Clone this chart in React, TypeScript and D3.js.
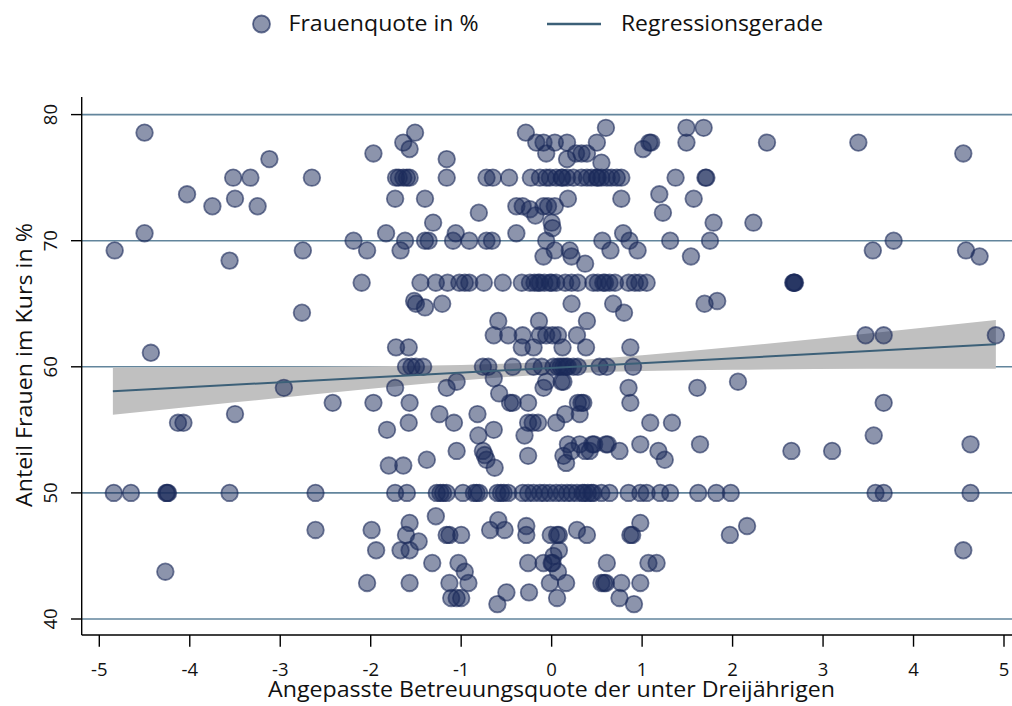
import React from "react";
import * as d3 from "d3";

// ---- Data ----
const xTicks = [-5, -4, -3, -2, -1, 0, 1, 2, 3, 4, 5];
const yTicks = [40, 50, 60, 70, 80];

// Scatter points: x = Angepasste Betreuungsquote, y = Frauenquote in %
const pointX = [
  -4.5, -4.03, -3.75, -3.52, -3.33, -3.5, -3.25, -3.12, -2.65, -4.5, -4.83, -3.56, -2.75, -2.76, -4.43,
  -2.96, -4.13, -4.07, -3.5, -4.84, -4.65, -4.26, -4.24, -4.25, -3.56, -2.61, -2.61, -4.27,
  -1.51, -1.64, -1.57, -1.97, -1.16,
  -1.72, -1.69, -1.64, -1.6, -1.57, -1.16, -0.72, -0.65, -0.47, -0.23, -0.06,
  -0.285, -0.17, -0.09, -0.06,
  -1.73, -1.4, -0.805,
  -0.39, -0.32, -0.24, -0.18, -0.09,
  -1.31, -1.83, -2.19, -2.04, -1.62, -1.67, -1.4, -1.36, -1.09, -1.06, -0.91, -0.72, -0.66, -0.39, -0.09, -0.06,
  -2.1, -1.45, -1.28, -1.15, -1.02, -0.96, -0.91, -0.75, -0.54, -0.33, -0.24, -0.19, -0.15, -0.13, -0.08, -0.02, 0.0,
  -1.52, -1.5, -1.4, -1.21,
  -0.59, -0.64, -0.48, -0.32, -0.14, -0.13, -0.06,
  -0.33, -0.2, -1.72, -1.58,
  -1.61, -1.55, -1.5, -1.42, -0.76, -0.7, -0.43, -0.2,
  -1.73, -1.16, -1.05, -0.64, -0.58, -0.46, -0.43, -0.26, -0.09, -0.06,
  -2.42, -1.97, -1.57, -1.24, -1.08, -0.82, -1.58, -1.82, -0.81, -0.64, -0.76, -0.74, -0.72, -0.63, -1.05, -1.38, -1.8, -1.64, -0.26, -0.21, -0.15, -0.3, -0.26,
  -1.73, -1.6, -1.27, -1.23, -1.2, -1.16, -0.98, -0.86, -0.83, -0.8, -0.6, -0.56, -0.53, -0.48, -0.32, -0.26, -0.2, -0.13, -0.08,
  -1.28, -1.57, -1.61, -1.47, -1.16, -1.13, -1.0, -1.99, -1.94, -1.67, -1.57, -0.68, -0.59, -0.52, -0.28, -0.28,
  -1.32, -1.03, -0.96, -0.26, -0.09, -2.04, -1.57, -1.13, -0.92, -1.11, -1.05, -1.0, -0.6, -0.5, -0.25,
  0.6, 1.49, 1.68, 0.035, 0.17, 0.5,
  0.17, 0.27, 0.33, 0.39, 0.55, 1.01, 1.08, 1.1, 1.49, 2.38,
  -0.13, -0.02, 0.05, 0.11, 0.12, 0.17, 0.24, 0.33, 0.39, 0.44, 0.5, 0.51, 0.55, 0.61, 0.66, 0.72, 0.77,
  1.37, 1.7, 1.71,
  0.18, -0.04, 0.035, 0.77, 1.19, 1.57, 1.23,
  0.0, 0.01, 1.79, 2.23, 0.79, 0.86, 0.95, 0.56, 0.65, 1.31, 1.75, 1.54, 0.035, 0.2, 0.22, 0.37,
  0.05, 0.15, 0.22, 0.29, 0.46, 0.51, 0.57, 0.59, 0.64, 0.7, 0.85, 0.92, 0.97, 1.05,
  0.22, 0.68, 0.8, 1.69, 1.83, 0.39,
  0.01, 0.07, 0.28,
  0.12, 0.38, 0.87,
  -0.11, 0.02, 0.07, 0.1, 0.13, 0.16, 0.18, 0.24, 0.29, 0.53, 0.61, 0.9,
  0.11, 0.13, 0.85, 0.87, 1.61, 2.06,
  0.29, 0.33, 0.35, 0.31, 0.15, 0.05,
  1.09, 1.33,
  0.18, 0.31, 0.45, 0.47, 0.6, 0.62, 0.13, 0.16, 0.22, 0.37, 0.42, 0.75, 0.98, 1.18, 1.25, 1.64,
  -0.02, 0.05, 0.11, 0.17, 0.22, 0.28, 0.34, 0.36, 0.4, 0.44, 0.46, 0.55, 0.64, 0.85, 0.98, 1.05, 1.2, 1.31, 1.62, 1.82, 1.98,
  -0.01, 0.06, 0.08, 0.28, 0.39, 0.87, 0.89, 0.98, 1.97, 2.16,
  0.02, 0.0, 0.01, 0.08, 0.07, 0.61, 1.07, 1.16,
  -0.02, 0.16, 0.55, 0.58, 0.6, 0.77, 0.98, 0.06, 0.75, 0.91,
  3.39, 4.55, 2.68, 2.68, 2.69, 2.67, 3.55, 3.78, 4.58, 4.73, 3.47, 3.67, 4.91,
  3.67, 3.56, 2.65, 3.1, 4.63, 3.58, 3.67, 4.63, 4.55,
];

const pointY = [
  78.57, 73.68, 72.73, 75, 75, 73.33, 72.73, 76.47, 75, 70.59, 69.23, 68.42, 69.23, 64.29, 61.11,
  58.33, 55.56, 55.56, 56.25, 50, 50, 50, 50, 50, 50, 50, 47.06, 43.75,
  78.57, 77.78, 77.27, 76.92, 76.47,
  75, 75, 75, 75, 75, 75, 75, 75, 75, 75, 75,
  78.57, 77.78, 77.78, 76.92,
  73.33, 73.33, 72.22,
  72.73, 72.73, 72.5, 72.0, 72.73,
  71.43, 70.59, 70, 69.23, 70, 69.23, 70, 70, 70, 70.59, 70, 70, 70, 70.59, 68.75, 70,
  66.67, 66.67, 66.67, 66.67, 66.67, 66.67, 66.67, 66.67, 66.67, 66.67, 66.67, 66.67, 66.67, 66.67, 66.67, 66.67, 66.67,
  65.22, 65.0, 64.71, 65,
  63.64, 62.5, 62.5, 62.5, 63.64, 62.5, 62.5,
  61.54, 61.54, 61.54, 61.54,
  60, 60, 60, 60, 60, 60, 60, 60,
  58.33, 58.33, 58.82, 59.09, 57.89, 57.14, 57.14, 57.14, 58.33, 58.82,
  57.14, 57.14, 57.14, 56.25, 55.56, 56.25, 55.56, 55, 54.55, 55, 53.33, 53.0, 52.63, 52, 53.33, 52.63, 52.17, 52.17, 55.56, 55.56, 55.56, 54.55, 52.94,
  50, 50, 50, 50, 50, 50, 50, 50, 50, 50, 50, 50, 50, 50, 50, 50, 50, 50, 50,
  48.15, 47.62, 46.67, 46.15, 46.67, 46.67, 46.67, 47.06, 45.45, 45.45, 45.45, 47.06, 47.83, 47.06, 47.37, 46.67,
  44.44, 44.44, 43.75, 44.44, 44.44, 42.86, 42.86, 42.86, 42.86, 41.67, 41.67, 41.67, 41.18, 42.11, 42.11,
  78.95, 78.95, 78.95, 77.78, 77.78, 77.78,
  76.47, 76.92, 76.92, 76.92, 76.19, 77.27, 77.78, 77.78, 77.78, 77.78,
  75, 75, 75, 75, 75, 75, 75, 75, 75, 75, 75, 75, 75, 75, 75, 75, 75,
  75, 75, 75,
  73.33, 72.73, 72.73, 73.33, 73.68, 73.33, 72.22,
  71.43, 71.0, 71.43, 71.43, 70.59, 70, 69.23, 70, 69.23, 70, 70, 68.75, 69.23, 69.23, 68.75, 68.18,
  66.67, 66.67, 66.67, 66.67, 66.67, 66.67, 66.67, 66.67, 66.67, 66.67, 66.67, 66.67, 66.67, 66.67,
  65, 65, 64.29, 65, 65.22, 63.64,
  62.5, 62.5, 62.5,
  61.54, 61.54, 61.54,
  60, 60, 60, 60, 60, 60, 60, 60, 60, 60, 60, 60,
  58.82, 58.82, 58.33, 57.14, 58.33, 58.82,
  57.14, 57.14, 57.14, 56.25, 56.25, 55.56,
  55.56, 55.56,
  53.85, 53.85, 53.85, 53.85, 53.85, 53.85, 52.94, 52.38, 53.33, 53.33, 53.33, 53.33, 53.85, 53.33, 52.63, 53.85,
  50, 50, 50, 50, 50, 50, 50, 50, 50, 50, 50, 50, 50, 50, 50, 50, 50, 50, 50, 50, 50,
  46.67, 46.67, 46.67, 47.06, 46.67, 46.67, 46.67, 47.62, 46.67, 47.37,
  45.0, 44.44, 44.44, 45.45, 43.75, 44.44, 44.44, 44.44,
  42.86, 42.86, 42.86, 42.86, 42.86, 42.86, 42.86, 41.67, 41.67, 41.18,
  77.78, 76.92, 66.67, 66.67, 66.67, 66.67, 69.23, 70, 69.23, 68.75, 62.5, 62.5, 62.5,
  57.14, 54.55, 53.33, 53.33, 53.85, 50, 50, 50, 45.45,
];

// Regression line (fitted) and its 95% confidence band
const fitX = [-4.85, 4.91];
const fitY = [58.07, 61.78];
const bandX = [-4.85, -3.5, -2, -1, 0, 1, 2, 3.5, 4.91];
const bandLow = [56.19, 57.18, 58.25, 58.91, 59.41, 59.67, 59.77, 59.84, 59.85];
const bandHigh = [59.95, 59.98, 60.05, 60.15, 60.41, 60.91, 61.57, 62.64, 63.71];

const legendLabels = ["Frauenquote in %", "Regressionsgerade"];
const xTitle = "Angepasste Betreuungsquote der unter Dreijährigen";
const yTitle = "Anteil Frauen im Kurs in %";

// ---- Layout ----
const W = 1012;
const H = 706;
const axisX = 81.7;
const axisY = 635;
const plotTop = 97;
const FONT = "'Open Sans', 'Noto Sans', sans-serif";
const NAVY = "#1a2a5a";
const GRID = "#62859c";
const FIT = "#3c6078";

export default function App() {
  const x = d3.scaleLinear().domain([-5, 5]).range([99.3, 1004]);
  const y = d3.scaleLinear().domain([40, 80]).range([619, 114.6]);

  const band = d3
    .area<number>()
    .x((_, i) => x(bandX[i]))
    .y0((_, i) => y(bandLow[i]))
    .y1((_, i) => y(bandHigh[i]))
    .curve(d3.curveMonotoneX)(bandX);

  const fitLine = d3
    .line<number>()
    .x((_, i) => x(fitX[i]))
    .y((_, i) => y(fitY[i]))(fitX);

  return (
    <svg
      width={W}
      height={H}
      style={{ position: "absolute", left: 0, top: 0, display: "block" }}
      fontFamily={FONT}
    >
      <rect x={0} y={0} width={W} height={H} fill="#ffffff" />

      {/* Legend */}
      <g>
        <circle cx={261.5} cy={24} r={8.5} fill={NAVY} fillOpacity={0.5} stroke={NAVY} strokeOpacity={0.65} strokeWidth={1.8} />
        <text x={288.5} y={31} fontSize={21.5} fill="#111" textLength={190} lengthAdjust="spacingAndGlyphs">
          {legendLabels[0]}
        </text>
        <line x1={547} x2={601} y1={24} y2={24} stroke={FIT} strokeWidth={2.5} />
        <text x={621} y={31} fontSize={21.5} fill="#111" textLength={202} lengthAdjust="spacingAndGlyphs">
          {legendLabels[1]}
        </text>
      </g>

      {/* Gridlines */}
      {yTicks.map((t) => (
        <line key={"g" + t} x1={axisX} x2={W} y1={y(t)} y2={y(t)} stroke={GRID} strokeWidth={1.6} />
      ))}

      {/* Confidence band */}
      <path d={band ?? ""} fill="#c0c0c0" stroke="none" />

      {/* Points */}
      <g>
        {pointX.map((px, i) => (
          <circle
            key={i}
            cx={x(px)}
            cy={y(pointY[i])}
            r={8.3}
            fill={NAVY}
            fillOpacity={0.5}
            stroke={NAVY}
            strokeOpacity={0.6}
            strokeWidth={1.8}
          />
        ))}
      </g>

      {/* Regression line */}
      <path d={fitLine ?? ""} fill="none" stroke={FIT} strokeWidth={2} />

      {/* Axes */}
      <line x1={axisX} x2={axisX} y1={plotTop} y2={axisY} stroke="#000" strokeWidth={1.4} />
      <line x1={axisX} x2={W} y1={axisY} y2={axisY} stroke="#000" strokeWidth={1.4} />

      {yTicks.map((t) => (
        <g key={"yt" + t}>
          <line x1={axisX - 10.7} x2={axisX} y1={y(t)} y2={y(t)} stroke="#000" strokeWidth={1.4} />
          <text
            transform={`translate(${57}, ${y(t)}) rotate(-90)`}
            textAnchor="middle"
            fontSize={18.5}
            fill="#111"
          >
            {t}
          </text>
        </g>
      ))}

      {xTicks.map((t) => (
        <g key={"xt" + t}>
          <line x1={x(t)} x2={x(t)} y1={axisY} y2={axisY + 11.7} stroke="#000" strokeWidth={1.4} />
          <text x={x(t)} y={676} textAnchor="middle" fontSize={18.5} fill="#111">
            {t < 0 ? "-" + Math.abs(t) : String(t)}
          </text>
        </g>
      ))}

      <text x={551.5} y={697} textAnchor="middle" fontSize={21} fill="#111" textLength={567} lengthAdjust="spacingAndGlyphs">
        {xTitle}
      </text>
      <text
        transform={`translate(${32}, ${365}) rotate(-90)`}
        textAnchor="middle"
        fontSize={21}
        fill="#111"
        textLength={284}
        lengthAdjust="spacingAndGlyphs"
      >
        {yTitle}
      </text>
    </svg>
  );
}
